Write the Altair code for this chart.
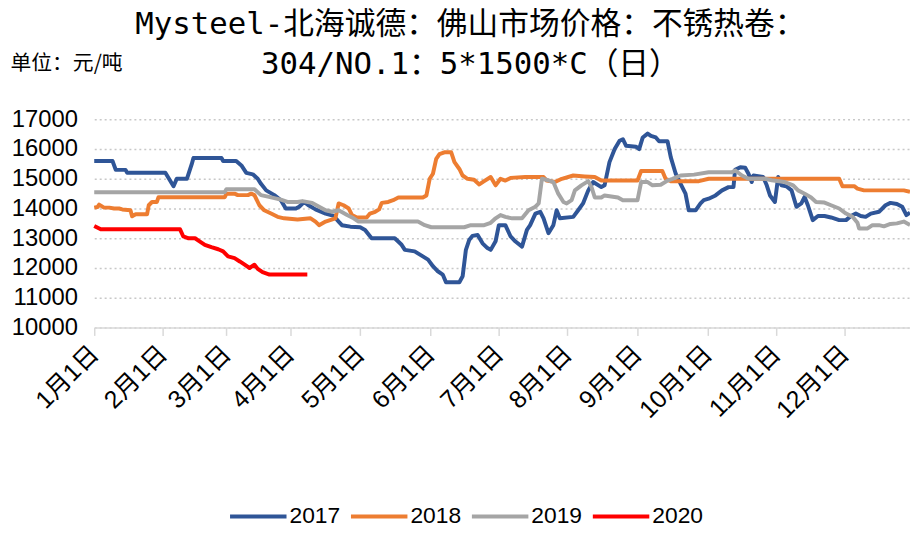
import altair as alt
import pandas as pd

# x = trading-day position along the year (0 = 1月1日), y = price (元/吨)
YEARS = ["2017", "2018", "2019", "2020"]
COLORS = ["#2F5597", "#ED7D31", "#A5A5A5", "#FF0000"]

TICK_POS = [0, 21, 40.5, 60, 81.5, 103, 124, 145, 166.5, 188, 209, 230]
TICK_LABELS = ["1月1日", "2月1日", "3月1日", "4月1日", "5月1日", "6月1日",
               "7月1日", "8月1日", "9月1日", "10月1日", "11月1日", "12月1日"]

x2017 = [0, 5.6, 6.6, 9.6, 10.1, 21.8, 24.3, 25.3, 28.4, 29.9, 30.4, 39, 39.5, 43.5, 45.1, 46.6, 48.6, 50.1,
         51.1, 52.7, 55.2, 57.2, 58.7, 61.8, 62.8, 64.3, 65.8, 67.8, 70.9, 73.4, 74.9, 75.9, 78.5, 81.5, 83,
         85, 92.1, 94.2, 95.2, 98.2, 100.7, 102.3, 103.8, 105.3, 106.8, 107.8, 111.9, 112.9, 113.9, 114.9,
         115.9, 117.5, 119, 120.5, 121.5, 123, 124, 126, 127.6, 129.1, 131.1, 132.6, 133.6, 135.2, 136.7,
         137.7, 139.2, 140.7, 141.7, 142.7, 146.8, 148.3, 149.8, 151.4, 152.9, 155.4, 156.4, 157.9, 159.5,
         161, 162, 163, 166, 167, 168.1, 169.6, 170.6, 172.1, 173.1, 175.7, 176.7, 178.2, 179.7, 181.2,
         182.2, 184.3, 185.8, 186.8, 188.3, 190.4, 192.4, 194.4, 195.9, 196.4, 198, 199.5, 200.5, 201.5,
         202, 204, 205, 206.1, 207.1, 208.6, 209.6, 210.6, 212.1, 213.7, 215.2, 216.7, 217.7, 218.7, 220.2,
         221.8, 223.8, 225.8, 228.3, 230.4, 231.9, 233.4, 234.9, 236.4, 238, 240.5, 242.5, 244, 246, 247.6,
         248.9, 250]
y2017 = [15600, 15600, 15300, 15300, 15200, 15200, 14750, 15000, 15000, 15500, 15700, 15700, 15600, 15600,
         15450, 15200, 15150, 15000, 14830, 14610, 14450, 14280, 14000, 14000, 14060, 14220, 14100, 13970,
         13830, 13750, 13560, 13440, 13390, 13370, 13280, 13000, 13000, 12780, 12610, 12560, 12390, 12280,
         12060, 11890, 11780, 11520, 11520, 11720, 12610, 12940, 13080, 13110, 12830, 12670, 12610, 12900,
         13440, 13440, 13060, 12890, 12720, 13280, 13440, 13830, 13890, 13670, 13170, 13440, 13940, 13670,
         13720, 13940, 14170, 14610, 14890, 14720, 14780, 15560, 16000, 16280, 16330, 16110, 16080, 16000,
         16390, 16520, 16440, 16390, 16260, 16260, 15720, 15170, 14830, 14500, 13940, 13940, 14170, 14280,
         14330, 14440, 14610, 14720, 14720, 15300, 15390, 15370, 15170, 14890, 15110, 15080, 15060, 14780,
         14440, 14220, 15060, 14780, 14750, 14610, 14060, 14170, 14390, 14110, 13610, 13750, 13750, 13700,
         13610, 13610, 13750, 13830, 13750, 13720, 13830, 13890, 14110, 14190, 14150, 14060, 13780, 13860]

x2018 = [0, 1, 1.5, 3, 4.6, 6.1, 7.6, 8.6, 11.1, 11.6, 12.7, 16.2, 16.7, 17.7, 19.2, 19.7, 40, 40.5, 43, 44,
         47.1, 48.1, 49.1, 50.6, 52.1, 54.2, 56.2, 58.2, 62.3, 66.3, 67.8, 68.9, 70.9, 73.9, 74.9, 76.4, 78,
         79, 80.5, 83.5, 84.5, 86.1, 87.3, 88.1, 90.1, 91.6, 93.2, 100.7, 101.8, 102.8, 103.8, 104.8, 105.8,
         107.3, 109.4, 110.4, 111.9, 112.9, 114.4, 116.4, 118, 119.5, 121.5, 123, 124.5, 126, 127.6, 132.1,
         137.7, 138.7, 141.2, 143.3, 146.8, 150.3, 153.4, 155.4, 166.5, 167.6, 174.1, 175.1, 176.7, 185.3,
         188.3, 228.3, 229.3, 232.9, 233.9, 235.9, 248.1, 250]
y2018 = [14030, 14050, 14130, 14030, 14030, 14000, 14000, 13970, 13940, 13740, 13810, 13810, 14110, 14220,
         14220, 14380, 14380, 14500, 14500, 14450, 14450, 14500, 14450, 14110, 13940, 13830, 13720, 13670,
         13630, 13670, 13560, 13440, 13560, 13670, 14170, 14110, 14000, 13780, 13700, 13700, 13830, 13890,
         13970, 14190, 14220, 14280, 14370, 14370, 14440, 15000, 15170, 15670, 15830, 15890, 15890, 15560,
         15330, 15110, 15000, 14970, 14810, 14920, 15060, 14780, 15000, 14940, 15030, 15060, 15060, 14940,
         14890, 15000, 15110, 15080, 15060, 14940, 14940, 15260, 15260, 15000, 14920, 14920, 15000, 15000,
         14750, 14750, 14670, 14610, 14610, 14560]

x2019 = [0, 40, 40.5, 49.1, 51.1, 53.2, 55.2, 57.2, 59.2, 62.3, 63.8, 66.8, 68.9, 70.9, 72.9, 74.9, 77.5,
         79.5, 81, 99.2, 101.3, 103.3, 113.4, 115.4, 119.5, 121.5, 123, 124.5, 126, 128.1, 131.1, 133.1,
         135.2, 136.2, 137.2, 139.2, 140.7, 142.2, 143.8, 144.8, 146.3, 147.3, 149.3, 151.4, 152.4, 153.4,
         155.4, 156.4, 160.5, 162, 166.5, 167.6, 169.6, 171.1, 173.6, 175.7, 177.2, 179.7, 183.8, 188.3,
         195.4, 196.4, 198.5, 200.5, 205.6, 207.6, 211.6, 214.2, 215.7, 217.7, 219.7, 221.2, 223.8, 225.8,
         228.3, 230.4, 232.4, 233.9, 234.4, 237, 238.5, 240.5, 242, 244, 246, 248.1, 250]
y2019 = [14550, 14550, 14650, 14650, 14450, 14400, 14350, 14300, 14220, 14220, 14250, 14190, 14060, 13940,
         13890, 13940, 13780, 13670, 13560, 13560, 13440, 13370, 13370, 13440, 13440, 13520, 13670, 13780,
         13720, 13670, 13670, 13940, 14060, 14170, 15000, 14950, 14890, 14500, 14220, 14170, 14280, 14610,
         14780, 14920, 14720, 14370, 14370, 14440, 14370, 14280, 14280, 14890, 14890, 14780, 14800, 14940,
         15000, 15110, 15140, 15220, 15220, 15280, 15110, 15000, 15000, 14950, 14890, 14780, 14610, 14500,
         14370, 14220, 14200, 14110, 14000, 13830, 13720, 13520, 13330, 13330, 13440, 13440, 13400, 13480,
         13500, 13560, 13450]

x2020 = [0, 2, 26.3, 27.3, 28.9, 30.9, 32.4, 33.9, 35.9, 38, 39.5, 41, 43, 44.6, 46.1, 47.6, 49.1, 50.1,
         51.6, 53.7, 65.3]
y2020 = [13410, 13300, 13300, 13060, 13000, 13000, 12890, 12780, 12700, 12630, 12560, 12390, 12330, 12220,
         12110, 12000, 12110, 11970, 11860, 11780, 11780]

frames = []
for yr, xs, ys in [("2017", x2017, y2017), ("2018", x2018, y2018),
                   ("2019", x2019, y2019), ("2020", x2020, y2020)]:
    frames.append(pd.DataFrame({"x": xs, "price": ys, "year": yr, "order": range(len(xs))}))
df = pd.concat(frames, ignore_index=True)

label_expr = "[" + ",".join("'" + s + "'" for s in TICK_LABELS) + "]"
pos_expr = "[" + ",".join(str(p) for p in TICK_POS) + "]"

LATIN = "Liberation Sans, Arial, Noto Sans CJK SC"
CJK = "Noto Sans CJK SC"
TITLE_FONT = "DejaVu Sans Mono, Noto Sans CJK SC"

chart = alt.Chart(df).mark_line(strokeWidth=4, strokeJoin="round").encode(
    x=alt.X("x:Q", scale=alt.Scale(domain=[0, 250], nice=False, zero=False),
            axis=alt.Axis(values=TICK_POS, title=None, grid=False,
                          labelExpr=f"{label_expr}[indexof({pos_expr}, datum.value)]",
                          labelAngle=-45, labelAlign="right", labelBaseline="middle",
                          labelFont=LATIN, labelFontSize=25, labelColor="#000000",
                          labelPadding=14, labelOverlap=False,
                          domainColor="#D9D9D9", domainWidth=1.5,
                          tickColor="#D9D9D9", tickWidth=1.5, tickSize=8)),
    y=alt.Y("price:Q", scale=alt.Scale(domain=[10000, 17000], nice=False, zero=False),
            axis=alt.Axis(values=list(range(10000, 17001, 1000)), format="d",
                          title="单位：元/吨", titleAngle=0, titleAlign="left",
                          titleBaseline="middle", titleX=-85, titleY=-56,
                          titleFont=CJK, titleFontSize=21, titleFontWeight="normal",
                          titleColor="#000000",
                          domain=False, ticks=False, labelPadding=17,
                          labelFont=LATIN, labelFontSize=24, labelColor="#000000",
                          gridColor="#C8C8C8", gridDash=[2, 3], gridWidth=1.4)),
    color=alt.Color("year:N", scale=alt.Scale(domain=YEARS, range=COLORS),
                    legend=alt.Legend(orient="none", direction="horizontal", title=None,
                                      legendX=154, legendY=389, symbolType="M-3.5,0H3.5",
                                      symbolSize=265, symbolStrokeWidth=4,
                                      labelFont=LATIN, labelFontSize=23, labelColor="#000000",
                                      labelOffset=20, columnPadding=2, padding=0)),
    order="order:Q",
).properties(
    width=823, height=210,
    autosize=alt.AutoSizeParams(type="none"),
    padding={"left": 87, "top": 110, "right": 0, "bottom": 199},
    title=alt.TitleParams(
        text=["Mysteel-北海诚德：佛山市场价格：不锈热卷：", "304/NO.1：5*1500*C（日）"],
        anchor="middle", frame="group", dx=-32, offset=-28,
        fontSize=31, lineHeight=40, font=TITLE_FONT, fontWeight="normal", color="#000000"),
).configure_view(stroke=None)

chart.save("out.html", embed_options={"renderer": "svg", "actions": False})
